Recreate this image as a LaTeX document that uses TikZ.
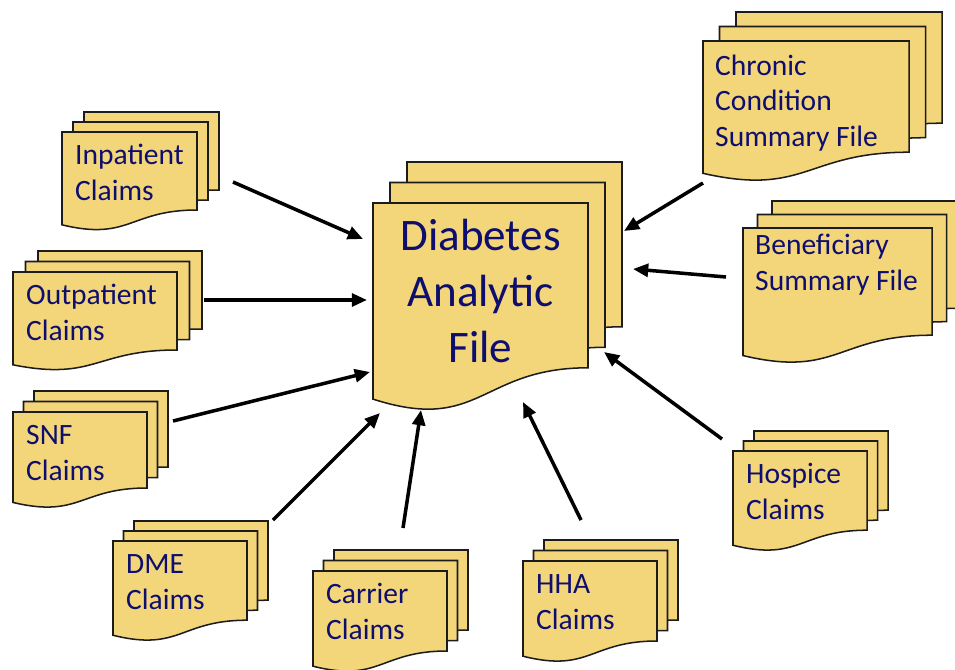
\documentclass[tikz,border=0pt]{standalone}
\usepackage{fontspec}
\setmainfont{Carlito}
\usepackage{tikz}
\usetikzlibrary{arrows.meta}
\definecolor{docfill}{RGB}{243,213,122}
\definecolor{docline}{RGB}{28,28,28}
\definecolor{doctext}{RGB}{14,14,110}
\tikzset{
  page/.style = {fill=docfill, draw=docline, line width=1.3pt, line join=miter},
  doclabel/.style = {
    anchor=base west, inner sep=0pt, align=left,
    text=doctext, font=\fontsize{25.2}{30}\selectfont
  },
  biglabel/.style = {
    anchor=base, inner sep=0pt, align=center,
    text=doctext, font=\fontsize{38.5}{47.5}\selectfont
  },
  arr/.style = {-{Triangle[length=13pt, width=11pt]}, line width=3pt, black}
}
% one page: x, y (top left), width, height
\newcommand\docpage[4]{%
  \pgfmathsetmacro\pgXr{#1+#3}%
  \pgfmathsetmacro\pgXm{#1+0.5*#3}%
  \pgfmathsetmacro\pgYr{#2+0.8*#4}%
  \pgfmathsetmacro\pgYc{#2+1.12*#4}%
  \pgfmathsetmacro\pgYl{#2+0.952*#4}%
  \filldraw[page] (#1,#2) -- (\pgXr,#2) -- (\pgXr,\pgYr)
    .. controls (\pgXm,\pgYr) and (\pgXm,\pgYc) .. (#1,\pgYl) -- cycle;
}
% stack of three pages: x, y, width, height, dx, dy
\newcommand\docstack[6]{%
  \docpage{#1+2*#5}{#2-2*#6}{#3}{#4}
  \docpage{#1+#5}{#2-#6}{#3}{#4}
  \docpage{#1}{#2}{#3}{#4}
}

\begin{document}
\begin{tikzpicture}[x=0.03cm, y=-0.03cm]
\useasboundingbox (0,0) rectangle (955,669);

% centre file (labels sit on their last baseline)
\docstack{373}{203}{215}{206}{17}{20.5}
\node[biglabel] (daf) at (480.5,362) {Diabetes\\Analytic\\File};

% sources, left
\docstack{62}{132}{135}{97.5}{11}{10}
\node[doclabel] (inp) at (75,200) {Inpatient\\Claims};
\docstack{13}{272}{164}{97.5}{12.5}{10.5}
\node[doclabel] (outp) at (26,340) {Outpatient\\Claims};
\docstack{13}{412}{134}{95}{10.5}{10.5}
\node[doclabel] (snf) at (26,480) {SNF\\Claims};

% sources, bottom
\docstack{113}{541}{134}{99}{10.5}{10}
\node[doclabel] (dme) at (126,609) {DME\\Claims};
\docstack{313}{571}{134}{100}{10.5}{10.5}
\node[doclabel] (car) at (326,639) {Carrier\\Claims};
\docstack{523}{561}{134}{100}{10.5}{10.5}
\node[doclabel] (hha) at (536,629) {HHA\\Claims};

% sources, right
\docstack{733}{451}{134}{99}{10.5}{10}
\node[doclabel] (hos) at (746,519) {Hospice\\Claims};
\docstack{743}{228}{189}{134}{14.5}{13.5}
\node[doclabel] (ben) at (755,290) {Beneficiary\\Summary File};
\docstack{703}{41}{206}{139}{16.5}{14.5}
\node[doclabel] (ccs) at (715,146) {Chronic\\Condition\\Summary File};

% arrow ends
\coordinate (inp-o) at (233,182);  \coordinate (inp-i) at (363,239);
\coordinate (outp-o) at (204,300); \coordinate (outp-i) at (367,300);
\coordinate (snf-o) at (173,421);  \coordinate (snf-i) at (370,372);
\coordinate (dme-o) at (273,520);  \coordinate (dme-i) at (380,413);
\coordinate (car-o) at (403,528);  \coordinate (car-i) at (421,410);
\coordinate (hha-o) at (581,520);  \coordinate (hha-i) at (523,402);
\coordinate (hos-o) at (722,439);  \coordinate (hos-i) at (604,352);
\coordinate (ben-o) at (726,277);  \coordinate (ben-i) at (633,269);
\coordinate (ccs-o) at (703,183);  \coordinate (ccs-i) at (624,231);

\foreach \s in {inp, outp, snf, dme, car, hha, hos, ben, ccs}
  \draw[arr] (\s-o) -- (\s-i);

\end{tikzpicture}
\end{document}
